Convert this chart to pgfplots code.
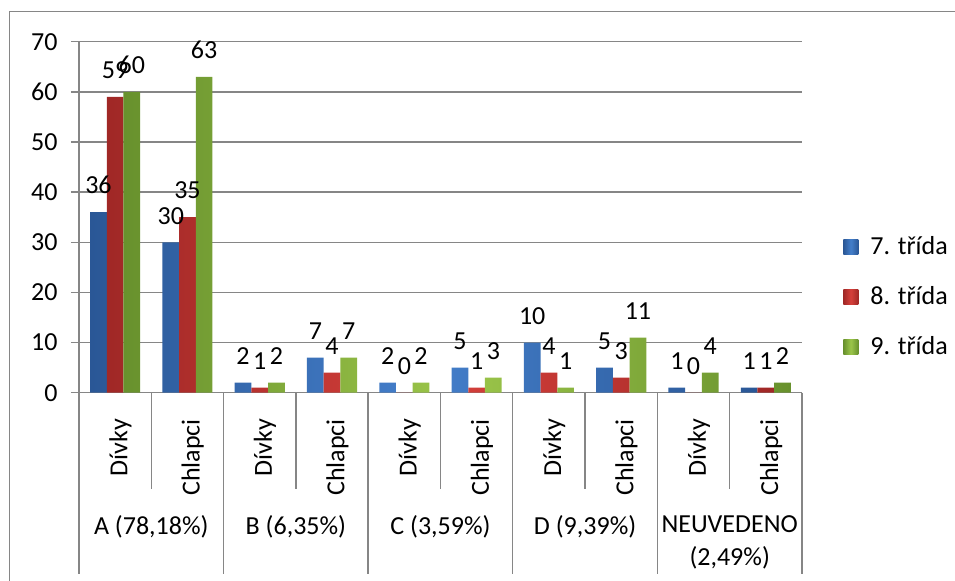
\documentclass[border=0pt]{standalone}
\usepackage{pgfplots}
\pgfplotsset{compat=1.18}
\usepackage{fontspec}
\setmainfont{Carlito}
\definecolor{gridc}{HTML}{868686}
\definecolor{b1}{HTML}{2A5796}
\definecolor{b2}{HTML}{447FCB}
\definecolor{r1}{HTML}{A02826}
\definecolor{r2}{HTML}{D6403B}
\definecolor{g1}{HTML}{68912D}
\definecolor{g2}{HTML}{9CC64A}
\begin{document}
\fontsize{13}{16}\selectfont
\begin{tikzpicture}
\useasboundingbox (0,0) rectangle (477.5pt,-290.5pt);
\draw[gridc, line width=0.75pt] (4.85pt,-291pt) -- (4.85pt,-5.85pt) -- (478pt,-5.85pt);
\begin{axis}[
  at={(39.5pt,-196.35pt)}, anchor=south west,
  scale only axis, width=361.5pt, height=175.5pt,
  xmin=-0.5, xmax=9.5, ymin=0, ymax=70,
  clip=false,
  ybar=0pt, bar width=8.35pt,
  axis lines*=left,
  axis line style={gridc, line width=0.7pt},
  ymajorgrids, grid style={gridc, line width=0.7pt},
  ytick={0,10,...,70},
  tick align=center, major tick length=8pt,
  ytick style={gridc, line width=0.7pt},
  xtick={0,...,9}, xtick style={draw=none},
  xticklabels={Dívky,Chlapci,Dívky,Chlapci,Dívky,Chlapci,Dívky,Chlapci,Dívky,Chlapci},
  xticklabel style={xshift=3pt, rotate=90, anchor=mid east, inner xsep=9pt, inner ysep=0pt, font=\fontsize{13}{16}\selectfont},
  yticklabel style={inner xsep=6.5pt, font=\fontsize{13}{16}\selectfont},
  /pgf/number format/assume math mode=true,
  nodes near coords,
  every node near coord/.append style={text=black, font=\fontsize{13}{16}\selectfont, yshift=4.5pt},
  legend style={draw=none, fill=none, at={(1.0567,0.272)}, anchor=west, inner sep=0pt,
    row sep=10pt, font=\fontsize{13}{16}\selectfont,
    nodes={text height=9pt, text depth=2pt, inner ysep=2pt, inner xsep=6pt}},
  legend cell align=left,
  legend image code/.code={\draw[#1, draw=none] (0pt,-3.75pt) rectangle (7.5pt,3.75pt);},
]
\addplot[draw=none, left color=b1, right color=b1, middle color=b2] coordinates {(0,36) (1,30) (2,2) (3,7) (4,2) (5,5) (6,10) (7,5) (8,1) (9,1)};
\addplot[draw=none, left color=r1, right color=r1, middle color=r2] coordinates {(0,59) (1,35) (2,1) (3,4) (4,0) (5,1) (6,4) (7,3) (8,0) (9,1)};
\addplot[draw=none, left color=g1, right color=g1, middle color=g2] coordinates {(0,60) (1,63) (2,2) (3,7) (4,2) (5,3) (6,1) (7,11) (8,4) (9,2)};
\legend{7. třída, 8. třída, 9. třída}
\draw[gridc, line width=0.7pt] (axis cs:0.5,0) -- ++(0pt,-48.15pt);
\draw[gridc, line width=0.7pt] (axis cs:2.5,0) -- ++(0pt,-48.15pt);
\draw[gridc, line width=0.7pt] (axis cs:4.5,0) -- ++(0pt,-48.15pt);
\draw[gridc, line width=0.7pt] (axis cs:6.5,0) -- ++(0pt,-48.15pt);
\draw[gridc, line width=0.7pt] (axis cs:8.5,0) -- ++(0pt,-48.15pt);
\draw[gridc, line width=0.7pt] (axis cs:-0.5,0) -- ++(0pt,-90.5pt);
\draw[gridc, line width=0.7pt] (axis cs:1.5,0) -- ++(0pt,-90.5pt);
\draw[gridc, line width=0.7pt] (axis cs:3.5,0) -- ++(0pt,-90.5pt);
\draw[gridc, line width=0.7pt] (axis cs:5.5,0) -- ++(0pt,-90.5pt);
\draw[gridc, line width=0.7pt] (axis cs:7.5,0) -- ++(0pt,-90.5pt);
\draw[gridc, line width=0.7pt] (axis cs:9.5,0) -- ++(0pt,-90.5pt);
\node[yshift=-67.2pt, font=\fontsize{13}{16}\selectfont] at (axis cs:0.5,0) {A (78,18\%)};
\node[yshift=-67.2pt, font=\fontsize{13}{16}\selectfont] at (axis cs:2.5,0) {B (6,35\%)};
\node[yshift=-67.2pt, font=\fontsize{13}{16}\selectfont] at (axis cs:4.5,0) {C (3,59\%)};
\node[yshift=-67.2pt, font=\fontsize{13}{16}\selectfont] at (axis cs:6.5,0) {D (9,39\%)};
\node[yshift=-75pt, align=center, font=\fontsize{13}{16.5}\selectfont] at (axis cs:8.5,0) {NEUVEDENO\\(2,49\%)};
\end{axis}
\end{tikzpicture}
\end{document}
